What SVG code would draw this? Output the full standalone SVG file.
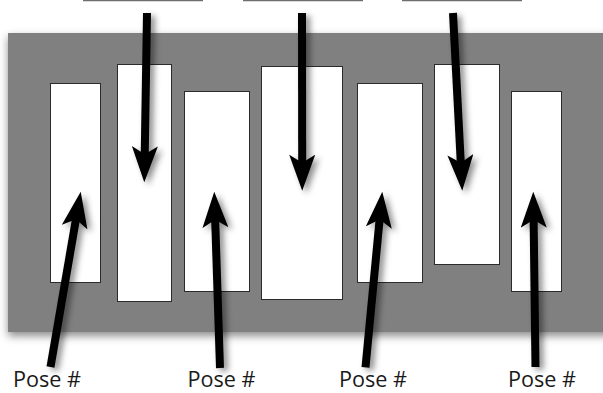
<svg xmlns="http://www.w3.org/2000/svg" width="603" height="393" viewBox="0 0 603 393">
  <style>
    .pose { fill: #ffffff; stroke: #2b2b2b; stroke-width: 1; }
    .shaft { stroke: #000000; stroke-width: 8; fill: none; marker-end: url(#head); }
    .label { font-family: "Open Sans", "Noto Sans", "Liberation Sans", sans-serif; font-size: 21px; fill: #1a1a1a; }
    .blank { stroke: #6e6e6e; stroke-width: 1.5; }
  </style>
  <defs>
    <filter id="panelShadow" x="-10%" y="-10%" width="120%" height="130%">
      <feDropShadow dx="0" dy="4" stdDeviation="4" flood-color="#000" flood-opacity="0.45"/>
    </filter>
    <filter id="arrowShadow" x="-50%" y="-10%" width="200%" height="120%">
      <feDropShadow dx="4" dy="3" stdDeviation="3" flood-color="#000" flood-opacity="0.45"/>
    </filter>
    <marker id="head" viewBox="0 0 36 26" refX="10" refY="13" markerWidth="36" markerHeight="26" markerUnits="userSpaceOnUse" orient="auto">
      <path d="M0,0 L36,13 L0,26 L8,13 Z" fill="#000"/>
    </marker>
  </defs>

  <!-- blanks at top -->
  <g id="blanks">
    <line class="blank" x1="83" y1="0.5" x2="203" y2="0.5"/>
    <line class="blank" x1="243" y1="0.5" x2="363" y2="0.5"/>
    <line class="blank" x1="402" y1="0.5" x2="522" y2="0.5"/>
  </g>

  <!-- panel -->
  <g id="panel">
    <rect x="8" y="33" width="610" height="299" fill="#808080" filter="url(#panelShadow)"/>
  </g>

  <g id="pose1"><rect class="pose" x="50.5" y="83.5" width="50" height="199"/></g>
  <g id="pose2"><rect class="pose" x="117.5" y="64.5" width="54" height="237"/></g>
  <g id="pose3"><rect class="pose" x="184.5" y="91.5" width="65" height="200"/></g>
  <g id="pose4"><rect class="pose" x="261.5" y="66.5" width="81" height="233"/></g>
  <g id="pose5"><rect class="pose" x="357.5" y="83.5" width="65" height="199"/></g>
  <g id="pose6"><rect class="pose" x="434.5" y="64.5" width="65" height="200"/></g>
  <g id="pose7"><rect class="pose" x="511.5" y="91.5" width="50" height="200"/></g>

  <!-- connectors -->
  <g id="connectors" filter="url(#arrowShadow)">
    <line class="shaft" x1="147" y1="13" x2="144.7" y2="156.3"/>
    <line class="shaft" x1="302" y1="13" x2="302.2" y2="164.7"/>
    <line class="shaft" x1="453" y1="13" x2="460.9" y2="164.7"/>
    <line class="shaft" x1="50.5" y1="367" x2="76.3" y2="217.3"/>
    <line class="shaft" x1="220" y1="368" x2="215.1" y2="217.7"/>
    <line class="shaft" x1="365.5" y1="367.3" x2="379.8" y2="217.6"/>
    <line class="shaft" x1="535.5" y1="367" x2="533.6" y2="217.7"/>
  </g>

  <!-- labels -->
  <g id="label1"><text class="label" x="13" y="386.5" textLength="68" lengthAdjust="spacingAndGlyphs">Pose #</text></g>
  <g id="label2"><text class="label" x="187.5" y="386.5" textLength="68" lengthAdjust="spacingAndGlyphs">Pose #</text></g>
  <g id="label3"><text class="label" x="339" y="386.5" textLength="68" lengthAdjust="spacingAndGlyphs">Pose #</text></g>
  <g id="label4"><text class="label" x="508" y="386.5" textLength="68" lengthAdjust="spacingAndGlyphs">Pose #</text></g>
</svg>
